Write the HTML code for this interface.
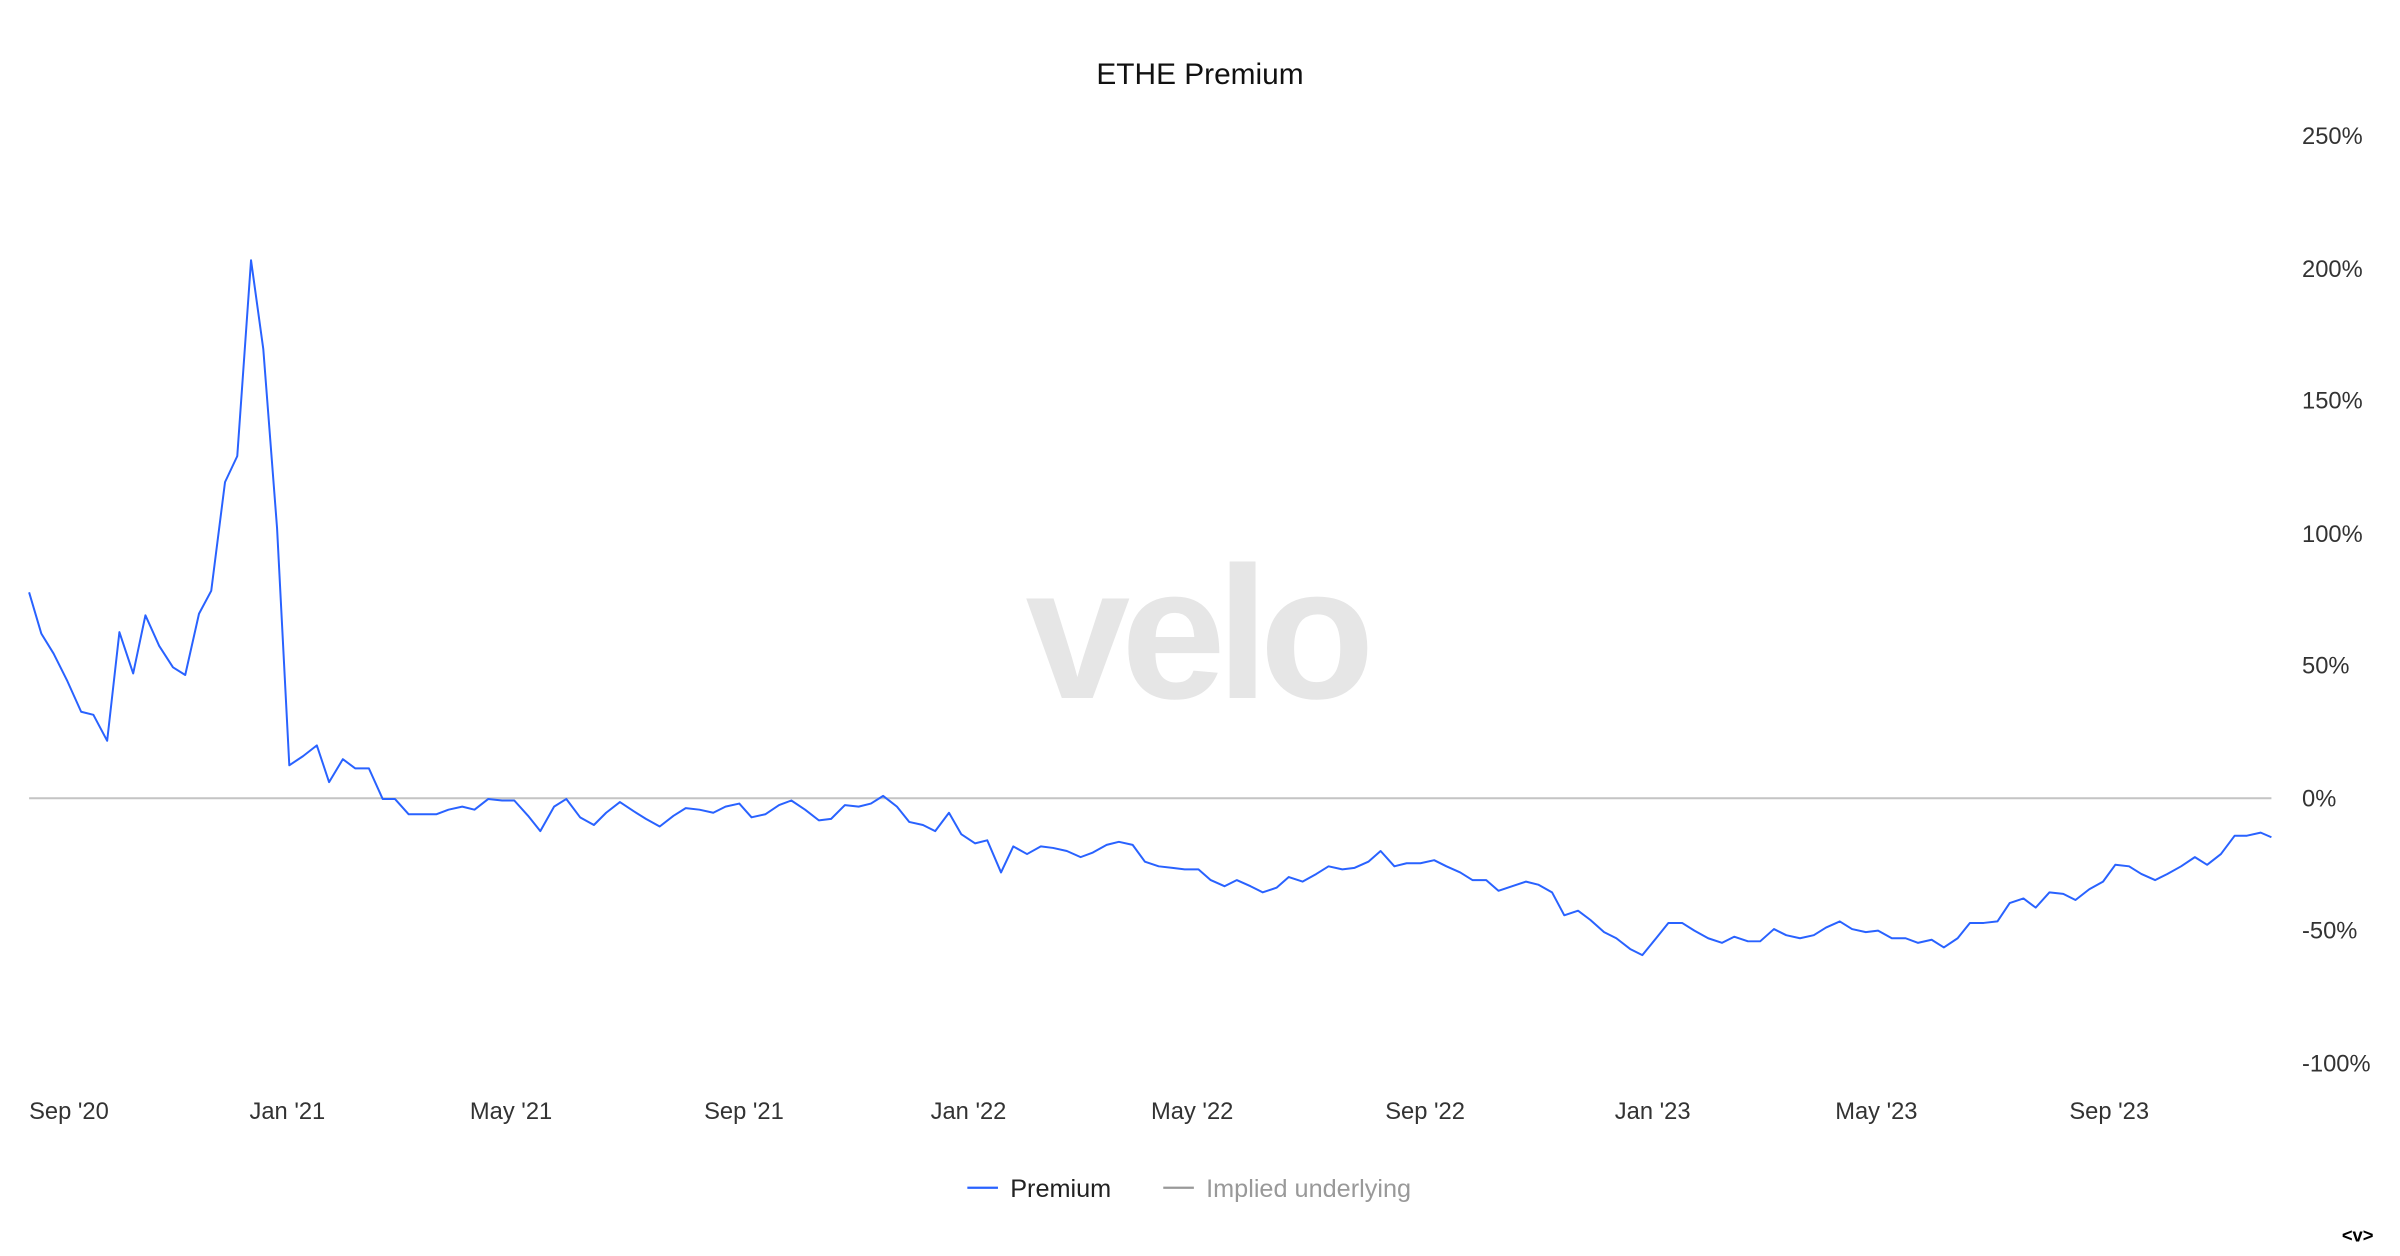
<!DOCTYPE html>
<html><head><meta charset="utf-8"><style>
html,body{margin:0;padding:0;background:#fff;width:2400px;height:1256px;overflow:hidden}
svg{display:block}
text{font-family:"Liberation Sans",sans-serif}
</style></head><body>
<svg width="2400" height="1256" viewBox="0 0 1568 820.6" xmlns="http://www.w3.org/2000/svg">
<rect width="1568" height="820.6" fill="#fff"/>
<text x="670" y="456" font-size="123" font-weight="bold" fill="#e6e6e6" letter-spacing="-6">velo</text>
<text x="784" y="55" font-size="19.5" text-anchor="middle" fill="#111">ETHE Premium</text>
<line x1="19" y1="521.5" x2="1484" y2="521.5" stroke="#c4c4c4" stroke-width="1.3"/>
<g font-size="15.5" fill="#333">
<text x="1504" y="94">250%</text>
<text x="1504" y="181">200%</text>
<text x="1504" y="267">150%</text>
<text x="1504" y="354">100%</text>
<text x="1504" y="440">50%</text>
<text x="1504" y="527">0%</text>
<text x="1504" y="613">-50%</text>
<text x="1504" y="700">-100%</text>
<text x="19" y="731">Sep '20</text>
<text x="163" y="731">Jan '21</text>
<text x="307" y="731">May '21</text>
<text x="460" y="731">Sep '21</text>
<text x="608" y="731">Jan '22</text>
<text x="752" y="731">May '22</text>
<text x="905" y="731">Sep '22</text>
<text x="1055" y="731">Jan '23</text>
<text x="1199" y="731">May '23</text>
<text x="1352" y="731">Sep '23</text>
</g>
<polyline fill="none" stroke="#2962ff" stroke-width="1.3" stroke-linejoin="round" points="19,387 27,414 35,427 44,445 53,465 61,467 70,484 78,413 87,440 95,402 104,422 113,436 121,441 130,401 138,386 147,315 155,298 164,170 172,228 181,345 189,500 198,494 207,487 215,511 224,496 232,502 241,502 250,522 258,522 267,532 276,532 285,532 293,529 302,527 310,529 319,522 328,523 336,523 345,533 353,543 362,527 370,522 379,534 388,539 396,531 405,524 414,530 422,535 431,540 440,533 448,528 457,529 466,531 474,527 483,525 491,534 500,532 509,526 517,523 526,529 535,536 543,535 552,526 561,527 569,525 577,520 586,527 594,537 603,539 611,543 620,531 628,545 637,551 645,549 654,570 662,553 671,558 680,553 688,554 697,556 706,560 714,557 723,552 731,550 740,552 748,563 757,566 766,567 774,568 783,568 791,575 800,579 808,575 817,579 825,583 834,580 842,573 851,576 860,571 868,566 877,568 885,567 894,563 902,556 911,566 919,564 928,564 937,562 945,566 954,570 962,575 971,575 979,582 988,579 997,576 1005,578 1014,583 1022,598 1031,595 1039,601 1048,609 1056,613 1065,620 1073,624 1082,613 1090,603 1099,603 1107,608 1116,613 1125,616 1133,612 1142,615 1150,615 1159,607 1167,611 1176,613 1185,611 1193,606 1202,602 1210,607 1219,609 1227,608 1236,613 1245,613 1253,616 1262,614 1270,619 1279,613 1287,603 1296,603 1305,602 1313,590 1322,587 1330,593 1339,583 1348,584 1356,588 1365,581 1374,576 1382,565 1391,566 1399,571 1408,575 1416,571 1425,566 1434,560 1442,565 1451,558 1460,546 1468,546 1477,544 1484,547"/>
<line x1="632" y1="776" x2="652" y2="776" stroke="#2962ff" stroke-width="1.5"/>
<text x="660" y="782" font-size="16.5" fill="#222">Premium</text>
<line x1="760" y1="776" x2="780" y2="776" stroke="#999" stroke-width="1.5"/>
<text x="788" y="782" font-size="16.5" fill="#999">Implied underlying</text>
<text x="1530" y="811" font-size="12" font-weight="bold" fill="#000">&lt;v&gt;</text>
</svg>
</body></html>
